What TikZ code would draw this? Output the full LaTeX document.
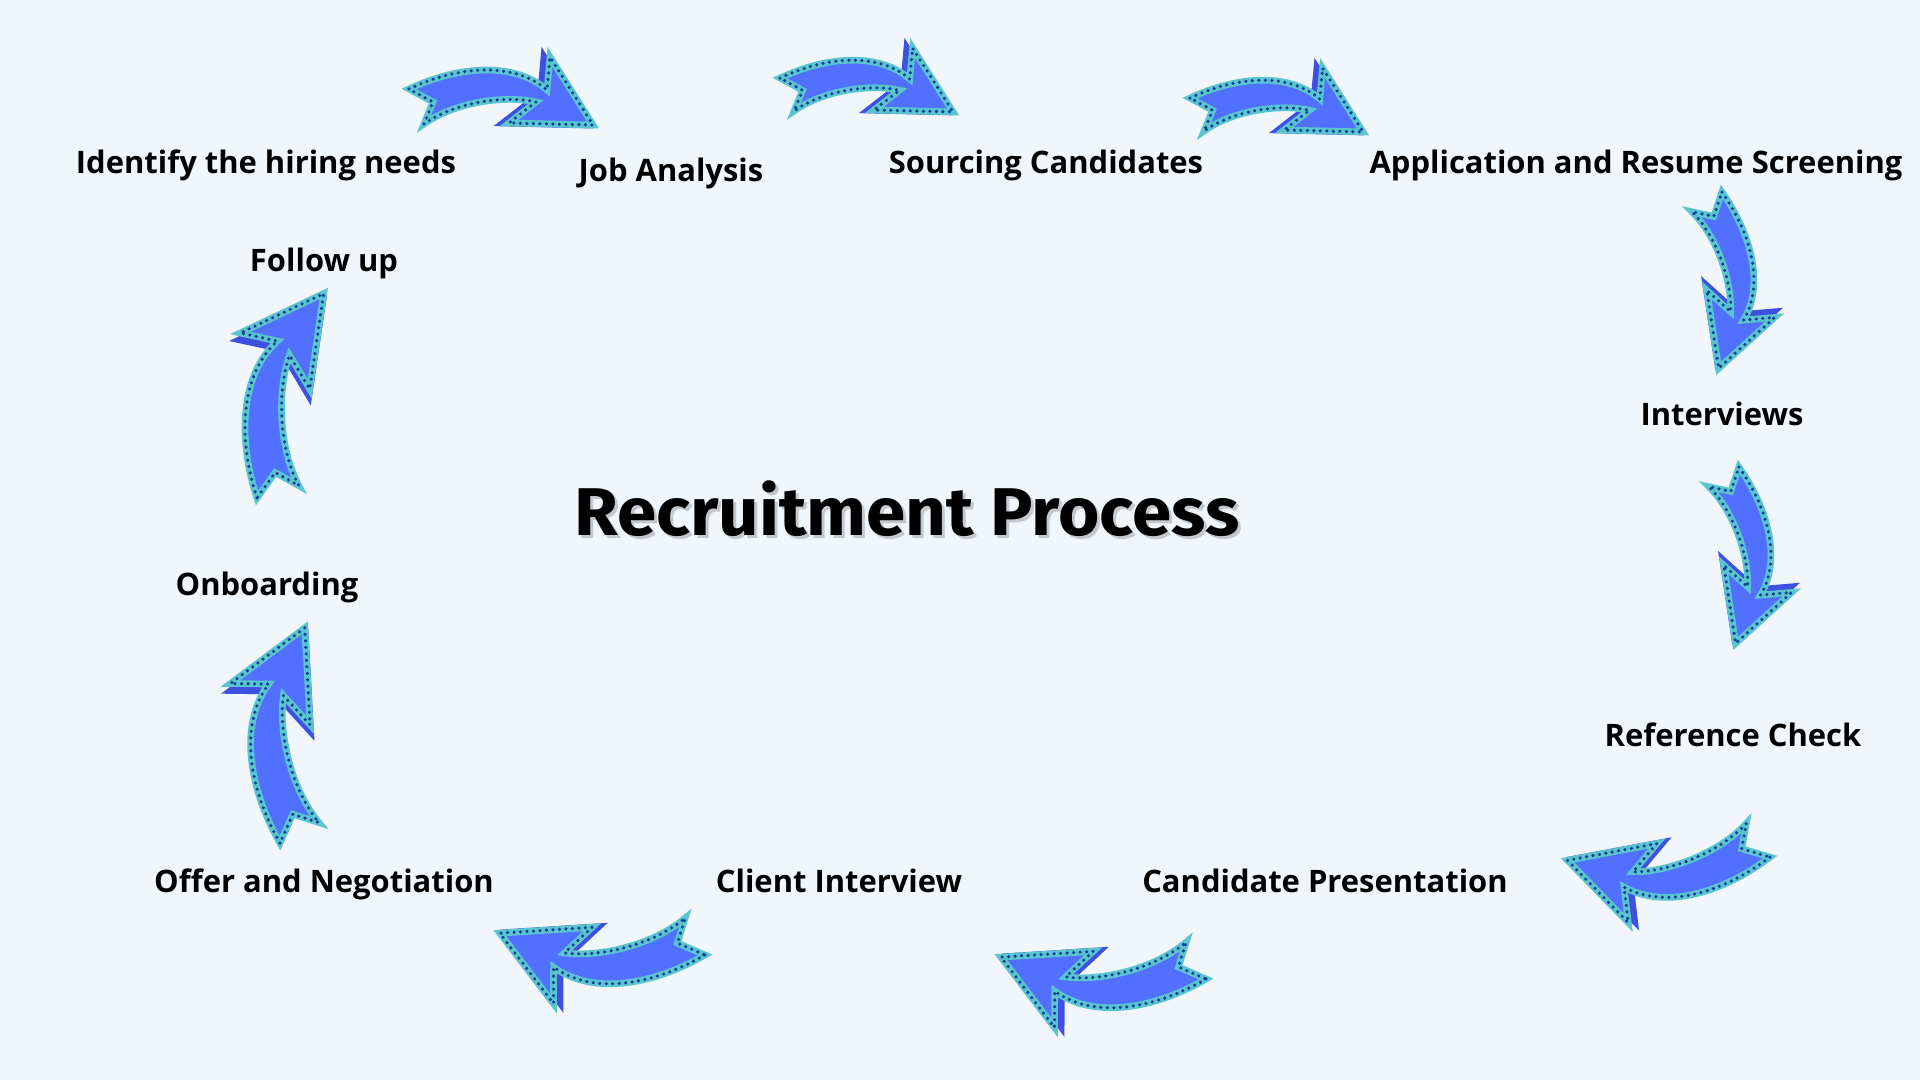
\documentclass[tikz,border=0pt]{standalone}
\usepackage{fontspec}
\setmainfont{Open Sans}
\newfontfamily\titlefont[FakeStretch=1.05]{Fira Sans}
\definecolor{bgcol}{HTML}{F0F6F9}
\definecolor{arrowblue}{HTML}{5170FF}
\definecolor{arrowedge}{HTML}{5BC5CF}
\definecolor{arrowdot}{HTML}{0B3F96}
\definecolor{arrowside}{HTML}{3F50E0}
\definecolor{shadowgray}{HTML}{C4C8CC}
\tikzset{
  steplabel/.style={font=\fontsize{8.8pt}{10pt}\selectfont\bfseries, text=black, inner sep=0pt, anchor=base},
  titlelabel/.style={font=\titlefont\fontsize{19.2pt}{22pt}\selectfont\bfseries, inner sep=0pt, anchor=base},
  fancyarrow/.pic={
    \path[fill=arrowside, draw=arrowside, line width=1.9pt, line join=miter]
      (40,0) -- (43,-33) -- (86,35) -- (2,33) -- (29,12) -- cycle;
    \path[fill=arrowblue, draw=arrowedge, line width=1.9pt, line join=miter,
      postaction={draw=arrowdot, line width=1.0pt, line cap=round, dash pattern=on 0pt off 1.85pt}]
      (-92,-1) .. controls (-41,-25) and (14,-28) .. (46,0)
      -- (49,-33) -- (92,35) -- (8,33) -- (35,12)
      .. controls (4,5) and (-46,12) .. (-77,34) -- (-68,12) -- cycle;
  }
}
\begin{document}
\begin{tikzpicture}[x=0.01cm,y=-0.01cm]
\fill[bgcol] (0,0) rectangle (1920,1080);
\useasboundingbox (0,0) rectangle (1920,1080);

% title
\node[titlelabel, text=shadowgray] (titleshadow) at (910,539) {Recruitment Process};
\node[titlelabel, text=black] (title) at (907,536) {Recruitment Process};

% step labels
\node[steplabel] (s1) at (266,174) {Identify the hiring needs};
\node[steplabel] (s2) at (671,182) {Job Analysis};
\node[steplabel] (s3) at (1046,174) {Sourcing Candidates};
\node[steplabel] (s4) at (1636,174) {Application and Resume Screening};
\node[steplabel] (s5) at (1722,426) {Interviews};
\node[steplabel] (s6) at (1733,747) {Reference Check};
\node[steplabel] (s7) at (1325,893) {Candidate Presentation};
\node[steplabel] (s8) at (839,893) {Client Interview};
\node[steplabel] (s9) at (324,893) {Offer and Negotiation};
\node[steplabel] (s10) at (267,596) {Onboarding};
\node[steplabel] (s11) at (324,272) {Follow up};

% arrows
\pic (a1) at (501,90) {fancyarrow};
\pic[scale=0.94] (a2) at (866.5,79) {fancyarrow};
\pic[scale=0.94] (a3) at (1276.5,99) {fancyarrow};
\pic[rotate=-80, scale=0.94] (a4) at (1736,277.5) {fancyarrow};
\pic[rotate=-80, scale=0.94] (a5) at (1753,552.5) {fancyarrow};
\pic[rotate=-168, scale=1.08] (a6) at (1672.6,876.7) {fancyarrow};
\pic[rotate=-175, scale=1.1] (a7) at (1105.1,986.7) {fancyarrow};
\pic[rotate=-175, scale=1.1] (a8) at (604,962.7) {fancyarrow};
\pic[rotate=94.5, scale=1.155] (a9) at (272.8,737) {fancyarrow};
\pic[rotate=83, scale=1.147] (a10) at (271,393.4) {fancyarrow};
\end{tikzpicture}
\end{document}
